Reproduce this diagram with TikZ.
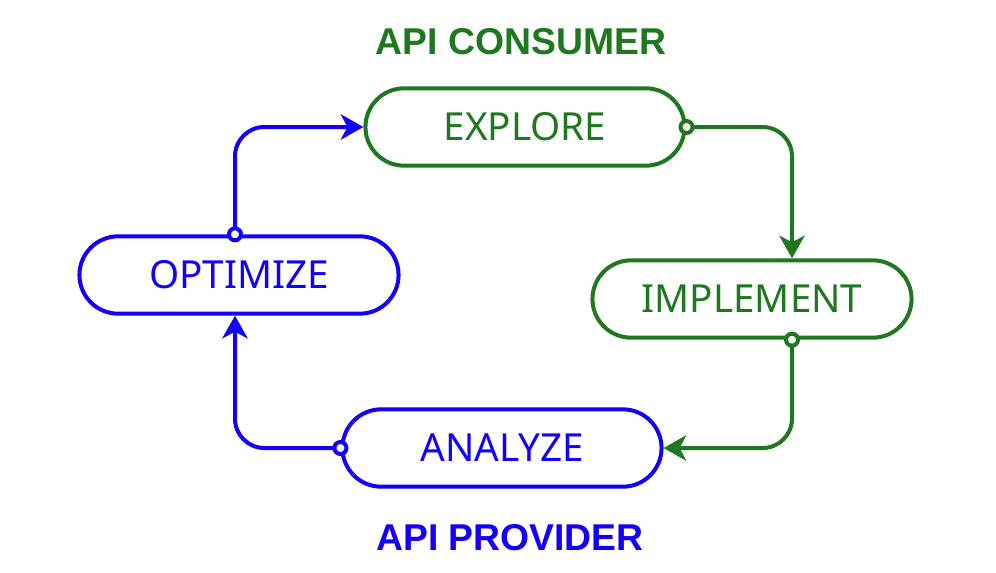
\documentclass[tikz,border=0pt]{standalone}
\usepackage{fontspec}
\setmainfont{Noto Sans}
\newfontfamily\titlefont{Liberation Sans}
\usetikzlibrary{shapes.misc,arrows.meta}

\definecolor{consumergreen}{RGB}{31,119,31}
\definecolor{providerblue}{RGB}{20,0,250}

\begin{document}
\begin{tikzpicture}[x=0.75pt,y=0.75pt,yscale=-1,xscale=1,
  stage/.style={rounded rectangle,line width=3pt,fill=white,
    minimum width=246pt,minimum height=58pt,font=\fontsize{29}{32}\selectfont},
  link/.style={line width=3pt,rounded corners=22pt,
    {Circle[fill=white,length=12pt]}-{Stealth[length=17pt,width=19pt,inset=5pt]},
    shorten <=-6pt},
  title/.style={font=\titlefont\bfseries\fontsize{28}{32}\selectfont}]
\useasboundingbox (0,0) rectangle (996,572);

% Stages
\node [stage,draw=consumergreen,text=consumergreen] (exp) at (525,127) {EXPLORE};
\node [stage,draw=consumergreen,text=consumergreen] (imp) at (752,299) {IMPLEMENT};
\node [stage,draw=providerblue,text=providerblue] (ana) at (502,448) {ANALYZE};
\node [stage,draw=providerblue,text=providerblue] (opt) at (239,275) {OPTIMIZE};

% Titles
\node [title,text=consumergreen] (consumer) at (521,42) {API CONSUMER};
\node [title,text=providerblue] (provider) at (510,538) {API PROVIDER};

% Cycle
\draw [link,draw=consumergreen] (exp.east) -| ([xshift=30pt]imp.north);
\draw [link,draw=consumergreen] ([xshift=30pt]imp.south) |- (ana.east);
\draw [link,draw=providerblue] (ana.west) -| ([xshift=-3pt]opt.south);
\draw [link,draw=providerblue] ([xshift=-3pt]opt.north) |- (exp.west);

\end{tikzpicture}
\end{document}
